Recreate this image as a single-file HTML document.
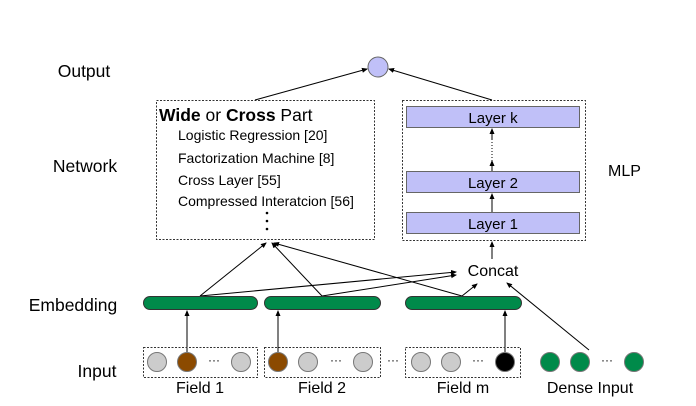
<!DOCTYPE html>
<html><head><style>body{margin:0;background:#fff}svg{display:block}text{font-family:"Liberation Sans",Arial,sans-serif;fill:#000}</style></head>
<body>
<svg width="696" height="406" viewBox="0 0 696 406" xmlns="http://www.w3.org/2000/svg">
<defs><marker id="a" markerWidth="6" markerHeight="6" refX="5" refY="3" orient="auto"><path d="M0,0.5 L6,3 L0,5.5z" fill="#000"/></marker></defs>
<g font-size="17.5">
<text x="84" y="77" text-anchor="middle">Output</text>
<text x="85" y="172" text-anchor="middle">Network</text>
<text x="73" y="311" text-anchor="middle">Embedding</text>
<text x="97" y="377" text-anchor="middle">Input</text>
</g>
<circle cx="378" cy="67" r="10" fill="#c0c0f8" stroke="#666"/>
<rect x="156.5" y="100.5" width="218" height="139" fill="none" stroke="#333" stroke-dasharray="2,1.5"/>
<text x="159" y="121" font-size="17.5"><tspan font-weight="bold">Wide</tspan> or <tspan font-weight="bold">Cross</tspan> Part</text>
<g font-size="14">
<text x="178" y="140">Logistic Regression [20]</text>
<text x="178" y="163">Factorization Machine [8]</text>
<text x="178" y="185">Cross Layer [55]</text>
<text x="178" y="206">Compressed Interatcion [56]</text>
</g>
<circle cx="267" cy="213" r="1.3"/><circle cx="267" cy="221" r="1.3"/><circle cx="267" cy="229" r="1.3"/>
<rect x="402.5" y="100.5" width="183" height="140" fill="none" stroke="#333" stroke-dasharray="2,1.5"/>
<g fill="#c0c0f8" stroke="#666">
<rect x="406.5" y="106.5" width="173" height="21"/>
<rect x="406.5" y="171.5" width="173" height="21"/>
<rect x="406.5" y="212.5" width="173" height="21"/>
</g>
<g font-size="15" text-anchor="middle">
<text x="493" y="123">Layer k</text>
<text x="493" y="188">Layer 2</text>
<text x="493" y="229">Layer 1</text>
</g>
<text x="608" y="176" font-size="16">MLP</text>
<g stroke="#000" stroke-width="1" fill="none" marker-end="url(#a)">
<line x1="492" y1="212" x2="492" y2="194"/>
<line x1="492" y1="171" x2="492" y2="161"/>
<line x1="492" y1="139" x2="492" y2="129" />
<line x1="492" y1="161" x2="492" y2="139" stroke-dasharray="1,2" marker-end="none"/>
<line x1="255" y1="100" x2="367" y2="69"/>
<line x1="492" y1="100" x2="389" y2="69"/>
<line x1="492" y1="259" x2="492" y2="242"/>
<line x1="200" y1="296" x2="266" y2="243"/>
<line x1="322" y1="296" x2="272" y2="243"/>
<line x1="462" y1="296" x2="274" y2="243"/>
<line x1="200" y1="296" x2="456" y2="272"/>
<line x1="322" y1="296" x2="456" y2="275"/>
<line x1="462" y1="296" x2="477" y2="284"/>
<line x1="589" y1="350" x2="507" y2="283"/>
<line x1="187" y1="352" x2="187" y2="311"/>
<line x1="278" y1="352" x2="278" y2="311"/>
<line x1="505" y1="352" x2="505" y2="311"/>
</g>
<text x="493" y="276" font-size="16" text-anchor="middle">Concat</text>
<g fill="#008a4a" stroke="#333">
<rect x="143.5" y="296.5" width="114" height="13" rx="6.5"/>
<rect x="264.5" y="296.5" width="116" height="13" rx="6.5"/>
<rect x="405.5" y="296.5" width="116" height="13" rx="6.5"/>
</g>
<g fill="none" stroke="#333" stroke-dasharray="2,1.5">
<rect x="143.5" y="347.5" width="114" height="30"/>
<rect x="264.5" y="347.5" width="116" height="30"/>
<rect x="405.5" y="347.5" width="115" height="30"/>
</g>
<g stroke="#777">
<circle cx="157" cy="362" r="9.5" fill="#ccc"/>
<circle cx="187" cy="362" r="9.5" fill="#8b4a00"/>
<circle cx="241" cy="362" r="9.5" fill="#ccc"/>
<circle cx="278" cy="362" r="9.5" fill="#8b4a00"/>
<circle cx="308" cy="362" r="9.5" fill="#ccc"/>
<circle cx="363" cy="362" r="9.5" fill="#ccc"/>
<circle cx="421" cy="362" r="9.5" fill="#ccc"/>
<circle cx="451" cy="362" r="9.5" fill="#ccc"/>
<circle cx="505" cy="362" r="9.5" fill="#000"/>
<circle cx="550" cy="362" r="9.5" fill="#008a4a"/>
<circle cx="580" cy="362" r="9.5" fill="#008a4a"/>
<circle cx="634" cy="362" r="9.5" fill="#008a4a"/>
</g>
<g font-size="12" text-anchor="middle">
<text x="214" y="364">···</text>
<text x="336" y="364">···</text>
<text x="393" y="364">···</text>
<text x="478" y="364">···</text>
<text x="607" y="364">···</text>
</g>
<g font-size="16" text-anchor="middle">
<text x="200" y="393">Field 1</text>
<text x="322" y="393">Field 2</text>
<text x="463" y="393">Field m</text>
<text x="590" y="393">Dense Input</text>
</g>
</svg>
</body></html>
